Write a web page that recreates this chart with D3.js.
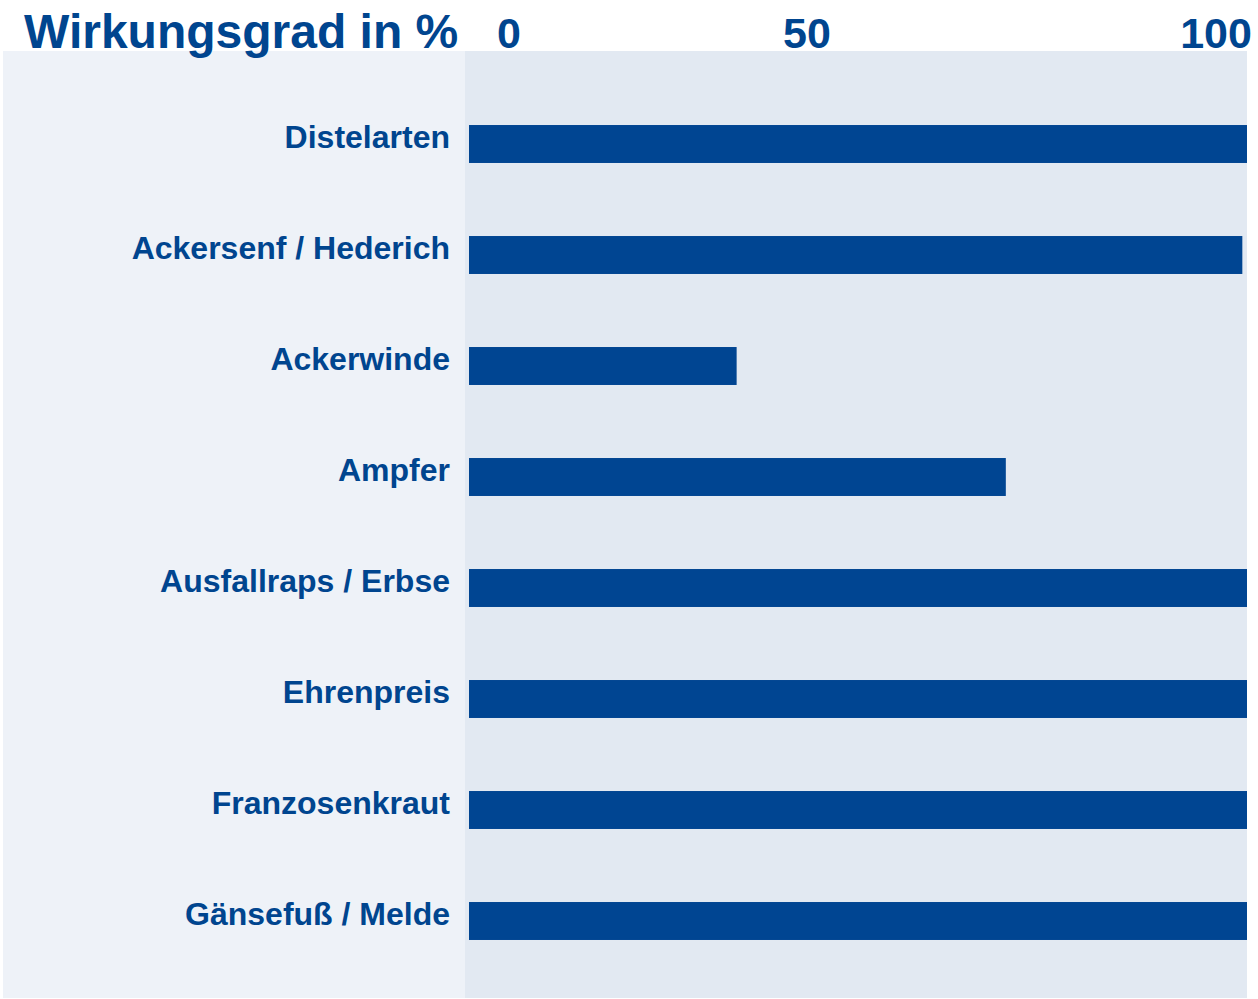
<!DOCTYPE html>
<html lang="de">
<head>
	<meta charset="UTF-8">
	<title>Wirkungsgrad</title>
	<script src="https://cdn.jsdelivr.net/npm/d3@7/dist/d3.min.js"></script>
	<style>
		body { margin: 0; background: #fff; }
		text { font-family: "Liberation Sans", Arial, sans-serif; font-weight: bold; fill: #00458f; }
	</style>
</head>
<body>
<script>
var categories = ['Distelarten', 'Ackersenf / Hederich', 'Ackerwinde', 'Ampfer',
	'Ausfallraps / Erbse', 'Ehrenpreis', 'Franzosenkraut', 'Gänsefuß / Melde'];
var values = [100, 99.4, 34.4, 69, 100, 100, 100, 100];
var tickValues = [0, 50, 100];
var title = 'Wirkungsgrad in %';

var width = 1258,
	height = 999;

var svg = d3.select('body').append('svg')
	.attr('width', width)
	.attr('height', height);

var panel = { left: 3, split: 465, right: 1247, top: 51, bottom: 998 };

// background panels
svg.append('rect')
	.attr('x', panel.left).attr('y', panel.top)
	.attr('width', panel.split - panel.left).attr('height', panel.bottom - panel.top)
	.attr('fill', '#eef2f8');
svg.append('rect')
	.attr('x', panel.split).attr('y', panel.top)
	.attr('width', panel.right - panel.split).attr('height', panel.bottom - panel.top)
	.attr('fill', '#e2e9f2');

var xScale = d3.scaleLinear()
	.domain([0, 100])
	.range([469, 1247]);

var yScale = d3.scaleBand()
	.domain(categories)
	.range([88.5, 976.5])
	.paddingInner(0.658)
	.paddingOuter(0.329);

// header labels sit unevenly in the original, so they get their own scale
var headerScale = d3.scaleLinear()
	.domain(tickValues)
	.range([509, 807, 1216]);

svg.append('text')
	.attr('x', 24)
	.attr('y', 48)
	.attr('font-size', 48)
	.text(title);

svg.selectAll('.tick-label')
	.data(tickValues)
	.enter().append('text')
	.attr('class', 'tick-label')
	.attr('x', d => headerScale(d))
	.attr('y', 48)
	.attr('text-anchor', 'middle')
	.attr('font-size', 43)
	.text(d => d);

svg.selectAll('.bar')
	.data(values)
	.enter().append('rect')
	.attr('class', 'bar')
	.attr('x', xScale(0))
	.attr('y', (d, i) => yScale(categories[i]))
	.attr('width', d => xScale(d) - xScale(0))
	.attr('height', yScale.bandwidth())
	.attr('fill', '#004592');

svg.selectAll('.cat-label')
	.data(categories)
	.enter().append('text')
	.attr('class', 'cat-label')
	.attr('x', 450)
	.attr('y', d => yScale(d) + yScale.bandwidth() / 2 + 4)
	.attr('text-anchor', 'end')
	.attr('font-size', 32)
	.text(d => d);
</script>
</body>
</html>
